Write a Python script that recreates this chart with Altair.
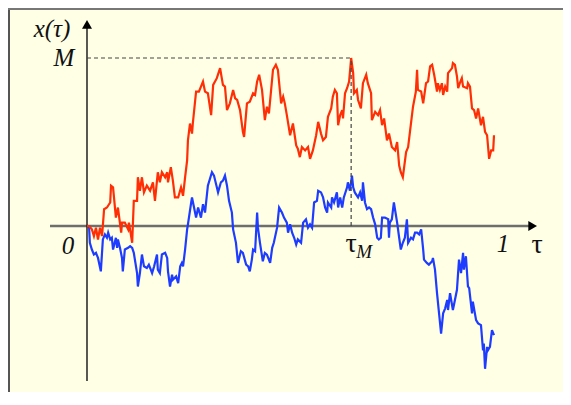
import altair as alt
import pandas as pd

# ---- data (tau in [0,1], x in units of M) ----
tau_red = [0, 0.005, 0.012, 0.017, 0.022, 0.027, 0.032, 0.037, 0.042, 0.049, 0.057, 0.059, 0.064, 0.071, 0.076,
           0.084, 0.086, 0.093, 0.101, 0.103, 0.111, 0.115, 0.123, 0.125, 0.130, 0.135, 0.140, 0.147, 0.155, 0.162,
           0.167, 0.174, 0.179, 0.184, 0.192, 0.197, 0.199, 0.206, 0.211, 0.216, 0.224, 0.231, 0.236, 0.241, 0.246,
           0.248, 0.253, 0.258, 0.260, 0.268, 0.275, 0.285, 0.290, 0.297, 0.305, 0.310, 0.319, 0.327, 0.334, 0.339,
           0.344, 0.351, 0.359, 0.364, 0.369, 0.376, 0.383, 0.386, 0.393, 0.400, 0.408, 0.413, 0.418, 0.423, 0.430,
           0.437, 0.442, 0.447, 0.457, 0.464, 0.469, 0.477, 0.482, 0.486, 0.491, 0.499, 0.506, 0.514, 0.518, 0.523,
           0.528, 0.536, 0.543, 0.548, 0.555, 0.563, 0.568, 0.575, 0.580, 0.587, 0.592, 0.600, 0.604, 0.609, 0.614,
           0.617, 0.622, 0.627, 0.629, 0.634, 0.639, 0.644, 0.649, 0.654, 0.656, 0.663, 0.666, 0.673, 0.678, 0.686,
           0.690, 0.698, 0.700, 0.708, 0.715, 0.720, 0.725, 0.730, 0.737, 0.742, 0.749, 0.757, 0.762, 0.767, 0.771,
           0.776, 0.784, 0.789, 0.794, 0.801, 0.808, 0.811, 0.813, 0.821, 0.826, 0.833, 0.838, 0.843, 0.848, 0.853,
           0.860, 0.862, 0.867, 0.872, 0.875, 0.880, 0.885, 0.887, 0.897, 0.899, 0.904, 0.909, 0.912, 0.916, 0.921,
           0.924, 0.934, 0.936, 0.941, 0.946, 0.951, 0.956, 0.961, 0.968, 0.973, 0.978, 0.983, 0.988, 0.993, 0.998,
           1.000]
x_red = [0, 0, -0.02, -0.06, -0.01, -0.08, -0.01, -0.06, 0.10, 0.11, 0.14, 0.24, 0.23, 0.05, 0.11,
         -0.04, 0.02, 0.02, -0.02, 0.02, -0.10, 0.15, 0.15, 0.29, 0.21, 0.29, 0.20, 0.24, 0.21, 0.26,
         0.15, 0.32, 0.26, 0.32, 0.29, 0.32, 0.26, 0.35, 0.27, 0.17, 0.17, 0.23, 0.18, 0.29, 0.39,
         0.51, 0.61, 0.55, 0.61, 0.80, 0.80, 0.86, 0.80, 0.79, 0.66, 0.84, 0.88, 0.94, 0.84, 0.83,
         0.69, 0.73, 0.81, 0.76, 0.75, 0.69, 0.56, 0.53, 0.73, 0.74, 0.79, 0.78, 0.86, 0.90, 0.81,
         0.63, 0.71, 0.67, 0.93, 0.96, 0.93, 0.73, 0.77, 0.73, 0.66, 0.54, 0.61, 0.48, 0.46, 0.41,
         0.47, 0.45, 0.47, 0.40, 0.45, 0.54, 0.62, 0.55, 0.51, 0.53, 0.65, 0.70, 0.77, 0.81, 0.79,
         0.60, 0.66, 0.69, 0.64, 0.79, 0.82, 0.86, 1.00, 0.91, 0.79, 0.81, 0.75, 0.70, 0.85, 0.90,
         0.85, 0.79, 0.63, 0.68, 0.66, 0.69, 0.60, 0.64, 0.51, 0.55, 0.47, 0.45, 0.50, 0.36, 0.32,
         0.29, 0.44, 0.47, 0.57, 0.71, 0.80, 0.93, 0.81, 0.80, 0.73, 0.85, 0.86, 0.95, 0.96, 0.90,
         0.80, 0.85, 0.81, 0.85, 0.78, 0.83, 0.80, 0.91, 0.94, 0.97, 0.96, 0.89, 0.82, 0.85, 0.88,
         0.83, 0.82, 0.85, 0.83, 0.70, 0.69, 0.64, 0.70, 0.60, 0.65, 0.56, 0.54, 0.40, 0.45, 0.45,
         0.54]

tau_blue = [0, 0.005, 0.007, 0.012, 0.017, 0.022, 0.027, 0.034, 0.039, 0.044, 0.049, 0.052, 0.057, 0.061, 0.064,
            0.071, 0.074, 0.076, 0.081, 0.086, 0.088, 0.093, 0.101, 0.106, 0.111, 0.115, 0.123, 0.125, 0.130, 0.135,
            0.140, 0.147, 0.152, 0.160, 0.165, 0.172, 0.174, 0.179, 0.184, 0.192, 0.197, 0.199, 0.204, 0.209, 0.211,
            0.219, 0.224, 0.229, 0.233, 0.236, 0.241, 0.246, 0.248, 0.256, 0.258, 0.263, 0.268, 0.273, 0.280, 0.285,
            0.290, 0.297, 0.307, 0.312, 0.319, 0.322, 0.329, 0.334, 0.339, 0.344, 0.349, 0.356, 0.359, 0.366, 0.371,
            0.378, 0.383, 0.391, 0.396, 0.400, 0.405, 0.408, 0.413, 0.418, 0.420, 0.425, 0.432, 0.437, 0.442, 0.450,
            0.455, 0.459, 0.467, 0.472, 0.479, 0.484, 0.491, 0.494, 0.499, 0.504, 0.509, 0.514, 0.518, 0.526, 0.531,
            0.538, 0.543, 0.548, 0.553, 0.558, 0.565, 0.568, 0.575, 0.580, 0.585, 0.590, 0.592, 0.600, 0.602, 0.607,
            0.614, 0.617, 0.622, 0.627, 0.631, 0.639, 0.641, 0.646, 0.651, 0.654, 0.658, 0.666, 0.671, 0.676, 0.678,
            0.683, 0.688, 0.693, 0.698, 0.703, 0.708, 0.713, 0.717, 0.722, 0.725, 0.732, 0.740, 0.742, 0.744, 0.749,
            0.754, 0.762, 0.767, 0.771, 0.776, 0.781, 0.786, 0.789, 0.796, 0.801, 0.806, 0.811, 0.816, 0.821, 0.826,
            0.828, 0.835, 0.840, 0.848, 0.850, 0.855, 0.860, 0.865, 0.870, 0.875, 0.880, 0.885, 0.887, 0.892, 0.899,
            0.904, 0.909, 0.914, 0.919, 0.924, 0.926, 0.931, 0.936, 0.939, 0.946, 0.948, 0.956, 0.961, 0.968, 0.973,
            0.975, 0.978, 0.983, 0.985, 0.990, 0.995, 1.000]
x_blue = [0, 0, -0.10, -0.14, -0.17, -0.16, -0.19, -0.27, -0.08, -0.05, -0.07, -0.04, -0.08, -0.07, -0.14,
          -0.07, -0.13, -0.08, -0.13, -0.19, -0.27, -0.14, -0.13, -0.12, -0.13, -0.16, -0.28, -0.36, -0.28, -0.17,
          -0.24, -0.25, -0.23, -0.28, -0.24, -0.17, -0.26, -0.28, -0.17, -0.16, -0.19, -0.27, -0.36, -0.29, -0.32,
          -0.30, -0.34, -0.24, -0.22, -0.24, -0.14, -0.02, 0.01, 0.14, 0.17, 0.11, 0.05, 0.11, 0.05, 0.13,
          0.08, 0.24, 0.32, 0.30, 0.23, 0.20, 0.26, 0.27, 0.30, 0.24, 0.15, 0.08, -0.02, -0.10, -0.22,
          -0.15, -0.16, -0.23, -0.24, -0.27, -0.20, -0.14, -0.15, 0.08, -0.01, -0.10, -0.21, -0.16, -0.17, -0.22,
          -0.13, -0.10, -0.01, 0.11, 0.08, 0.05, 0.02, -0.04, 0.01, -0.04, -0.07, -0.11, -0.08, -0.10, 0.02,
          0.04, -0.01, 0.01, -0.01, 0.14, 0.15, 0.21, 0.20, 0.17, 0.11, 0.08, 0.14, 0.11, 0.17, 0.14,
          0.20, 0.11, 0.17, 0.11, 0.17, 0.23, 0.26, 0.21, 0.30, 0.23, 0.20, 0.17, 0.20, 0.15, 0.26,
          0.14, 0.10, 0.11, 0.10, 0.05, 0.01, -0.07, -0.08, -0.07, 0.05, 0.05, 0.04, -0.07, 0.02, 0.04,
          0.14, 0.02, -0.07, -0.14, -0.10, -0.07, 0.04, -0.10, -0.07, -0.08, -0.04, -0.04, -0.05, -0.02, -0.14,
          -0.20, -0.22, -0.23, -0.21, -0.19, -0.26, -0.40, -0.52, -0.64, -0.52, -0.49, -0.44, -0.50, -0.40, -0.50,
          -0.44, -0.38, -0.20, -0.28, -0.16, -0.26, -0.18, -0.36, -0.37, -0.52, -0.45, -0.56, -0.58, -0.59, -0.74,
          -0.70, -0.85, -0.72, -0.74, -0.72, -0.62, -0.65]

tau_M = 0.649
M = 1.0

label_texts = ["x(τ)", "M", "0", "1"]
label_tau = [-0.086, -0.0565, -0.0467, 1.022]
label_x = [1.173, 1.0, -0.119, -0.107]

# ---- tables ----
red = pd.DataFrame({"tau": tau_red, "x": x_red, "i": range(len(tau_red))})
blue = pd.DataFrame({"tau": tau_blue, "x": x_blue, "i": range(len(tau_blue))})
labels = pd.DataFrame({"tau": label_tau, "x": label_x, "text": label_texts})

W, H = 555, 384
xs = alt.Scale(domain=[-0.19410, 1.16953], nice=False, zero=False)
ys = alt.Scale(domain=[-0.98810, 1.29762], nice=False, zero=False)

X = lambda f: alt.X(f, type="quantitative", scale=xs, axis=None)
Y = lambda f: alt.Y(f, type="quantitative", scale=ys, axis=None)

blue_line = alt.Chart(blue).mark_line(color="#1E3CFF", strokeWidth=2.2).encode(
    x=X("tau"), y=Y("x"), order="i:Q")
red_line = alt.Chart(red).mark_line(color="#FF2E05", strokeWidth=2.2).encode(
    x=X("tau"), y=Y("x"), order="i:Q")

xaxis = alt.Chart(pd.DataFrame({"a": [-0.0909], "b": [1.095], "y": [0.0]})).mark_rule(
    color="#6E6E6E", strokeWidth=2.5).encode(x=X("a"), x2="b", y=Y("y"))
yaxis = alt.Chart(pd.DataFrame({"a": [-0.923], "b": [1.20], "t": [0.0]})).mark_rule(
    color="#222222", strokeWidth=1.5).encode(y=Y("a"), y2="b", x=X("t"))

arrow_up = alt.Chart(pd.DataFrame({"t": [0.0], "y": [1.2006]})).mark_point(
    shape="triangle-up", filled=True, opacity=1, color="black", size=100).encode(x=X("t"), y=Y("y"))
arrow_right = alt.Chart(pd.DataFrame({"t": [1.095], "y": [0.0]})).mark_point(
    shape="triangle-right", filled=True, opacity=1, color="black", size=100).encode(x=X("t"), y=Y("y"))

dash_h = alt.Chart(pd.DataFrame({"a": [0.0], "b": [tau_M], "y": [M]})).mark_rule(
    color="#444444", strokeWidth=1.2, strokeDash=[4, 3]).encode(x=X("a"), x2="b", y=Y("y"))
dash_v = alt.Chart(pd.DataFrame({"t": [tau_M], "a": [0.0], "b": [M]})).mark_rule(
    color="#444444", strokeWidth=1.2, strokeDash=[4, 3]).encode(x=X("t"), y=Y("a"), y2="b")

text_it = alt.Chart(labels).mark_text(
    font="Liberation Serif", fontStyle="italic", fontSize=25, color="#111111",
    align="center", baseline="middle").encode(x=X("tau"), y=Y("x"), text="text:N")

tau_lbl = alt.Chart(pd.DataFrame({"tau": [tau_M, 1.106], "x": [-0.107, -0.113], "text": ["τ", "τ"]})).mark_text(
    font="Liberation Serif", fontSize=28, color="#111111", align="center", baseline="middle").encode(
    x=X("tau"), y=Y("x"), text="text:N")
sub_lbl = alt.Chart(pd.DataFrame({"tau": [0.681], "x": [-0.152], "text": ["M"]})).mark_text(
    font="Liberation Serif", fontStyle="italic", fontSize=19, color="#111111", align="center",
    baseline="middle").encode(x=X("tau"), y=Y("x"), text="text:N")

border_l = alt.Chart(pd.DataFrame({"k": [0]})).mark_rule(color="#555555", strokeWidth=2).encode(
    x=alt.value(1), y=alt.value(0), y2=alt.value(H))
border_t = alt.Chart(pd.DataFrame({"k": [0]})).mark_rule(color="#777777", strokeWidth=2).encode(
    x=alt.value(0), x2=alt.value(W), y=alt.value(1))

chart = alt.layer(
    border_l, border_t, xaxis, yaxis, arrow_up, arrow_right,
    blue_line, red_line, dash_h, dash_v, text_it, tau_lbl, sub_lbl
).properties(
    width=W, height=H, background="#FFFFE6", padding=0,
    autosize=alt.AutoSizeParams(type="none")
).configure_view(stroke=None)

chart.save("out.html", embed_options={"renderer": "svg", "actions": False})
